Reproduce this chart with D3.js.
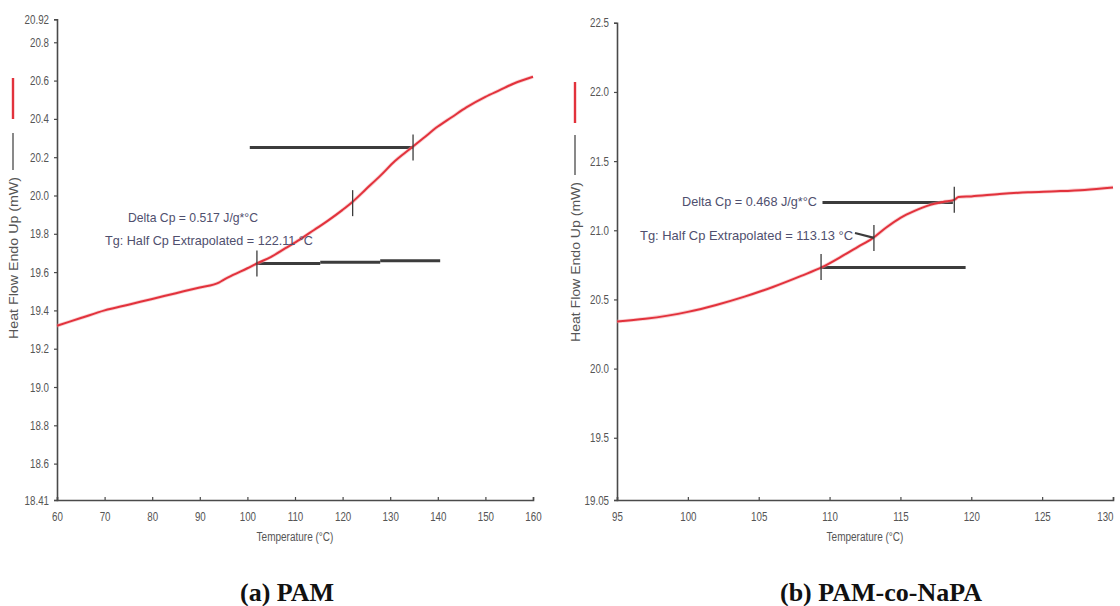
<!DOCTYPE html>
<html><head><meta charset="utf-8">
<script src="https://cdn.jsdelivr.net/npm/d3@7"></script>
<style>
body{margin:0;background:#fff;}
svg{display:block;font-family:"Liberation Sans",Arial,sans-serif;}
</style></head>
<body>
<svg id="c" width="1120" height="606"></svg>
<script>
// ---------- DATA ----------
// (a) PAM
const pamTemp = [60,65,70,75,80,85,90,94,95,97,100,102,105,108,111,114,117,120,122,125,128,131,134,137,140,143,146,150,153,156,160];
const pamHF   = [19.32,19.36,19.40,19.43,19.46,19.49,19.52,19.545,19.56,19.585,19.62,19.645,19.68,19.725,19.77,19.82,19.87,19.925,19.965,20.035,20.105,20.18,20.24,20.30,20.36,20.41,20.46,20.515,20.55,20.585,20.62];
const pamXTicks = [60,70,80,90,100,110,120,130,140,150,160];
const pamYTicks = [18.41,18.6,18.8,19.0,19.2,19.4,19.6,19.8,20.0,20.2,20.4,20.6,20.8,20.92];
const pamYLabels = ["18.41","18.6","18.8","19.0","19.2","19.4","19.6","19.8","20.0","20.2","20.4","20.6","20.8","20.92"];
const pamUpperBase = [100.5,134.8,20.25];            // x1, x2, y
const pamLowerBaseX = [102,115.3,127.9,140.5];       // step boundaries
const pamLowerBaseY = [19.645,19.652,19.659];        // step levels
const pamMarkX = [102,122.11,134.8];
const pamMarkY = [19.645,19.96,20.25];
const pamTexts = ["Delta Cp = 0.517 J/g*°C","Tg: Half Cp Extrapolated = 122.11 °C"];

// (b) PAM-co-NaPA
const napaTemp = [95,97,100,102,104,106,108,109.5,111,112,113,114,115,116,117,118,118.8,119.1,120,122,124,126,128,130];
const napaHF   = [20.34,20.36,20.41,20.46,20.52,20.59,20.67,20.735,20.82,20.88,20.94,21.02,21.09,21.14,21.18,21.205,21.22,21.24,21.245,21.262,21.275,21.282,21.292,21.31];
const napaXTicks = [95,100,105,110,115,120,125,130];
const napaYTicks = [19.05,19.5,20.0,20.5,21.0,21.5,22.0,22.5];
const napaYLabels = ["19.05","19.5","20.0","20.5","21.0","21.5","22.0","22.5"];
const napaUpperBase = [109.5,118.7,21.20];
const napaLowerBase = [109.4,119.6,20.73];
const napaMarkX = [109.4,113.13,118.8];
const napaMarkY = [20.735,20.945,21.22];
const napaTexts = ["Delta Cp = 0.468 J/g*°C","Tg: Half Cp Extrapolated = 113.13 °C"];

const captions = ["(a) PAM","(b) PAM-co-NaPA"];
const yTitle = "Heat Flow Endo Up (mW)";
const xTitle = "Temperature (°C)";

// ---------- DRAW ----------
const svg = d3.select("#c");
const RED = "#e2323c", AX = "#4a4a4a", TXT = "#555", ANN = "#3c3c3c", ANNTXT = "#4f4f6e";

function condense(sel, f){
  sel.each(function(){
    const w = this.getComputedTextLength();
    d3.select(this).attr("textLength", w*f).attr("lengthAdjust","spacingAndGlyphs");
  });
}

function panel(cfg){
  const x = d3.scaleLinear().domain(cfg.xd).range(cfg.xr);
  const y = d3.scaleLinear().domain(cfg.yd).range(cfg.yr);
  const g = svg.append("g");

  // axes
  const ya = g.append("g").attr("transform",`translate(${cfg.xr[0]},0)`)
    .call(d3.axisLeft(y).tickValues(cfg.yTicks).tickFormat((d,i)=>cfg.yLabels[i]).tickSize(3).tickPadding(5));
  const xa = g.append("g").attr("transform",`translate(0,${cfg.yr[0]})`)
    .call(d3.axisBottom(x).tickValues(cfg.xTicks).tickFormat(d3.format("d")).tickSize(-3).tickPadding(12));
  [ya,xa].forEach(a=>{
    a.select(".domain").attr("stroke",AX).attr("stroke-width",1.6);
    a.selectAll(".tick line").attr("stroke",AX).attr("stroke-width",1.2);
    a.selectAll(".tick text").attr("fill",TXT).style("font-size","12.5px");
    condense(a.selectAll(".tick text"),0.78);
  });
  if (cfg.lastEnd !== undefined) xa.selectAll(".tick text").filter((d,i,n)=>i===n.length-1)
    .attr("text-anchor","end").attr("x",cfg.lastEnd);

  // axis titles
  const xt = g.append("text").attr("x",(cfg.xr[0]+cfg.xr[1])/2).attr("y",cfg.yr[0]+41)
    .attr("text-anchor","middle").attr("fill",TXT).style("font-size","12.5px").text(xTitle);
  condense(xt,0.8);
  g.append("text").attr("transform",`translate(${cfg.ytx},${cfg.yty}) rotate(-90)`)
    .attr("text-anchor","middle").attr("dy","0.35em").attr("fill",TXT).style("font-size","13px").text(yTitle)
    .attr("textLength",cfg.ytLen).attr("lengthAdjust","spacingAndGlyphs");
  // legend key segments beside y title
  g.append("line").attr("x1",cfg.ytx).attr("x2",cfg.ytx).attr("y1",cfg.legR[0]).attr("y2",cfg.legR[1])
    .attr("stroke",RED).attr("stroke-width",2.4);
  g.append("line").attr("x1",cfg.ytx).attr("x2",cfg.ytx).attr("y1",cfg.legG[0]).attr("y2",cfg.legG[1])
    .attr("stroke",AX).attr("stroke-width",1.3);

  // baseline annotation lines
  cfg.baseSegs.forEach(s=>{
    g.append("line").attr("x1",x(s[0])).attr("x2",x(s[1])).attr("y1",y(s[2])).attr("y2",y(s[2]))
      .attr("stroke",ANN).attr("stroke-width",3);
  });

  // curve
  const pts = cfg.t.map((d,i)=>[d,cfg.v[i]]);
  const line = d3.line().x(d=>x(d[0])).y(d=>y(d[1])).curve(d3.curveMonotoneX);
  g.append("path").datum(pts).attr("d",line).attr("fill","none").attr("stroke","#f4a0a4")
    .attr("stroke-width",3.6).attr("opacity",0.5);
  g.append("path").datum(pts).attr("d",line).attr("fill","none").attr("stroke",RED).attr("stroke-width",2);

  // marker ticks
  cfg.markX.forEach((m,i)=>{
    g.append("line").attr("x1",x(m)).attr("x2",x(m)).attr("y1",y(cfg.markY[i])-13).attr("y2",y(cfg.markY[i])+13)
      .attr("stroke",ANN).attr("stroke-width",1.3);
  });

  // texts
  cfg.texts.forEach((t,i)=>{
    const p = cfg.textPos[i];
    g.append("text").attr("x",p[0]).attr("y",p[1]).attr("dy","0.35em")
      .attr("fill",ANNTXT).style("font-size","13px").text(t)
      .attr("textLength",p[2]).attr("lengthAdjust","spacingAndGlyphs");
  });
  if (cfg.leader){
    const L = cfg.leader;
    g.append("line").attr("x1",L[0]).attr("x2",x(L[1])).attr("y1",L[2]).attr("y2",y(L[3]))
      .attr("stroke",ANN).attr("stroke-width",2.2);
  }

  // caption
  svg.append("text").attr("x",cfg.capX).attr("y",601)
    .attr("font-family","'Liberation Serif','Times New Roman',serif").attr("font-weight","bold")
    .style("font-size","26px").attr("fill","#111").text(cfg.caption);
}

panel({
  xd:[60,160], xr:[57,533], yd:[18.41,20.92], yr:[500,19.3],
  xTicks:pamXTicks, yTicks:pamYTicks, yLabels:pamYLabels,
  t:pamTemp, v:pamHF,
  baseSegs:[pamUpperBase].concat(pamLowerBaseY.map((v,i)=>[pamLowerBaseX[i],pamLowerBaseX[i+1],v])),
  markX:pamMarkX, markY:pamMarkY,
  texts:pamTexts, textPos:[[128,217,130],[105,240,208]],
  ytx:13, yty:258, ytLen:162, legR:[78,119], legG:[133,170],
  caption:captions[0], capX:240
});

panel({
  xd:[95,130], xr:[617,1113], yd:[19.05,22.5], yr:[500,22.8],
  xTicks:napaXTicks, yTicks:napaYTicks, yLabels:napaYLabels,
  t:napaTemp, v:napaHF,
  baseSegs:[napaUpperBase,napaLowerBase],
  markX:napaMarkX, markY:napaMarkY,
  texts:napaTexts, textPos:[[682,201,135],[640,235,213]],
  leader:[855,113.13,233,20.945],
  ytx:575, yty:262, ytLen:160, legR:[82,123], legG:[135,175],
  caption:captions[1], capX:780, lastEnd:0
});
</script>
</body></html>
